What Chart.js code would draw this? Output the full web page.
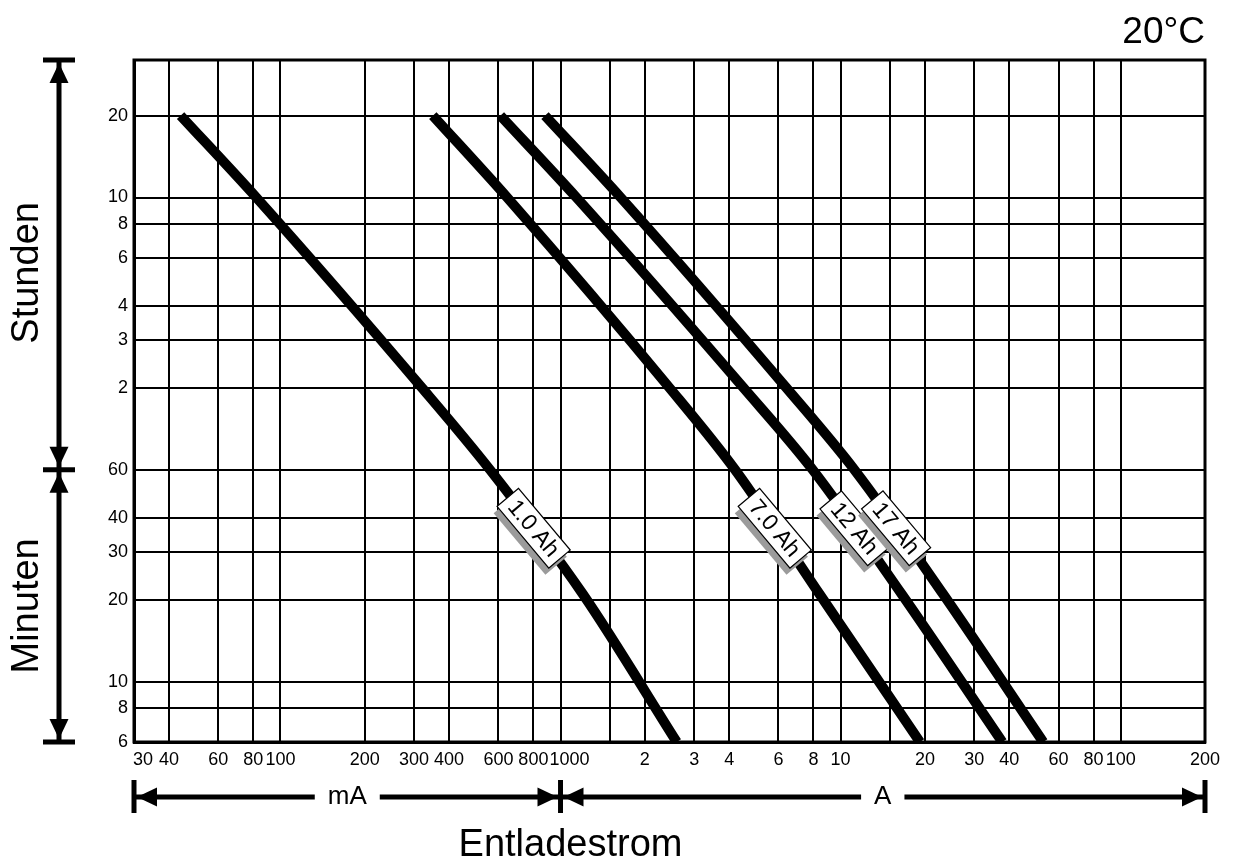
<!DOCTYPE html>
<html>
<head>
<meta charset="utf-8">
<script src="https://cdn.jsdelivr.net/npm/chart.js@4.4.1/dist/chart.umd.min.js"></script>
<style>
  html, body { margin: 0; padding: 0; background: #fff; }
  #wrap { width: 1240px; height: 860px; }
</style>
</head>
<body>
<div id="wrap"><canvas id="chart" width="1240" height="860"></canvas></div>
<script>
// Entladezeit in Stunden (6 min = 0.1 h)
const timeHours = [20, 10, 2, 1, 0.35, 0.1];

// Entladestrom in A
const current1Ah = [0.044, 0.082, 0.32, 0.56, 1.2, 2.6];
const current7Ah = [0.35, 0.645, 2.45, 4.2, 8.4, 19.2];
const current12Ah = [0.61, 1.14, 4.5, 7.95, 16.5, 37.8];
const current17Ah = [0.88, 1.64, 6.4, 11.2, 23.2, 52.9];

const seriesLabels = ['1.0 Ah', '7.0 Ah', '12 Ah', '17 Ah'];
const seriesCurrents = [current1Ah, current7Ah, current12Ah, current17Ah];

// x ticks in A (labels in mA below 1 A)
const xTickValues = [0.03, 0.04, 0.06, 0.08, 0.1, 0.2, 0.3, 0.4, 0.6, 0.8, 1, 1.5, 2, 3, 4, 6, 8, 10, 15, 20, 30, 40, 60, 80, 100, 200];
const xTickLabels = ['\u2002\u200230', '40', '60', '80', '100', '200', '300', '400', '600', '800', '\u2002\u20021000', '', '2', '3', '4', '6', '8', '10', '', '20', '30', '40', '60', '80', '100', '200'];

// y ticks in hours (labels in minutes below 1 h)
const yTickValues = [0.1, 0.1333, 0.1667, 0.3333, 0.5, 0.6667, 1, 2, 3, 4, 6, 8, 10, 20, 32];
const yTickLabels = ['6', '8', '10', '20', '30', '40', '60', '2', '3', '4', '6', '8', '10', '20', ''];

const FONT = "'Liberation Sans', Arial, Helvetica, sans-serif";
const LABEL_AT_HOURS = 0.61;
const TAG_ANGLE = 50 * Math.PI / 180;

const datasets = seriesLabels.map((label, i) => ({
    label: label,
    data: seriesCurrents[i].map((c, k) => ({ x: c, y: timeHours[k] })),
    borderColor: '#000',
    borderWidth: 10,
    borderCapStyle: 'butt',
    pointRadius: 0,
    cubicInterpolationMode: 'monotone',
    fill: false
}));

// white tag with grey shadow
const drawTag = (ctx, x, y, text) => {
    ctx.save();
    ctx.translate(x, y);
    ctx.rotate(TAG_ANGLE);
    ctx.font = '23px ' + FONT;
    const w = ctx.measureText(text).width + 14;
    const h = 28;
    ctx.fillStyle = '#9b9b9b';
    ctx.fillRect(-w / 2 + 3, -h / 2 + 7, w, h);
    ctx.fillStyle = '#fff';
    ctx.fillRect(-w / 2, -h / 2, w, h);
    ctx.lineWidth = 1.2;
    ctx.strokeStyle = '#000';
    ctx.strokeRect(-w / 2, -h / 2, w, h);
    ctx.fillStyle = '#000';
    ctx.textAlign = 'center';
    ctx.textBaseline = 'middle';
    ctx.fillText(text, 0, 1);
    ctx.restore();
};

const tagPlugin = {
    id: 'tagPlugin',
    afterDatasetsDraw(chart) {
        const ty = chart.scales.y.getPixelForValue(LABEL_AT_HOURS);
        chart.data.datasets.forEach((ds, i) => {
            const pts = chart.getDatasetMeta(i).data;
            for (let k = 0; k < pts.length - 1; k++) {
                const a = pts[k], b = pts[k + 1];
                if (ty >= a.y && ty <= b.y) {
                    const t = (ty - a.y) / (b.y - a.y);
                    drawTag(chart.ctx, a.x + t * (b.x - a.x), ty, ds.label);
                    break;
                }
            }
        });
    }
};

const arrowHead = (ctx, x, y, dir) => {
    // dir: direction the tip points to
    const len = 20, half = 9.5;
    const [dx, dy] = { up: [0, -1], down: [0, 1], left: [-1, 0], right: [1, 0] }[dir];
    ctx.beginPath();
    ctx.moveTo(x, y);
    ctx.lineTo(x - dx * len - dy * half, y - dy * len - dx * half);
    ctx.lineTo(x - dx * len + dy * half, y - dy * len + dx * half);
    ctx.closePath();
    ctx.fill();
};

const line = (ctx, x1, y1, x2, y2) => {
    ctx.beginPath();
    ctx.moveTo(x1, y1);
    ctx.lineTo(x2, y2);
    ctx.stroke();
};

const decoPlugin = {
    id: 'decoPlugin',
    afterDraw(chart) {
        const ctx = chart.ctx;
        const area = chart.chartArea;
        const xs = chart.scales.x, ys = chart.scales.y;
        ctx.save();
        ctx.fillStyle = '#000';
        ctx.strokeStyle = '#000';

        // frame
        ctx.lineWidth = 3;
        ctx.strokeRect(area.left, area.top, area.right - area.left, area.bottom - area.top);

        // left: Stunden / Minuten
        const ax = 59;
        const yTop = area.top, yMid = ys.getPixelForValue(1), yBot = ys.getPixelForValue(0.1);
        ctx.lineWidth = 5;
        [yTop, yMid, yBot].forEach(y => line(ctx, ax - 16, y, ax + 16, y));
        line(ctx, ax, yTop, ax, yBot);
        arrowHead(ctx, ax, yTop + 3, 'up');
        arrowHead(ctx, ax, yMid - 3, 'down');
        arrowHead(ctx, ax, yMid + 3, 'up');
        arrowHead(ctx, ax, yBot - 3, 'down');

        ctx.font = '38px ' + FONT;
        ctx.textAlign = 'center';
        ctx.textBaseline = 'middle';
        [['Stunden', (yTop + yMid) / 2 + 8], ['Minuten', (yMid + yBot) / 2]].forEach(([t, cy]) => {
            ctx.save();
            ctx.translate(28, cy);
            ctx.rotate(-Math.PI / 2);
            ctx.fillText(t, 0, 0);
            ctx.restore();
        });

        // bottom: mA / A
        const by = 797;
        const xL = xs.getPixelForValue(0.03), xM = xs.getPixelForValue(1), xR = xs.getPixelForValue(200);
        [xL, xM, xR].forEach(x => line(ctx, x, by - 17, x, by + 16));
        ctx.font = '26px ' + FONT;
        [['mA', xL, xM], ['A', xM, xR]].forEach(([t, a, b]) => {
            const c = (a + b) / 2;
            const half = ctx.measureText(t).width / 2 + 13;
            line(ctx, a, by, c - half, by);
            line(ctx, c + half, by, b, by);
            arrowHead(ctx, a + 3, by, 'left');
            arrowHead(ctx, b - 3, by, 'right');
            ctx.fillText(t, c, by);
        });

        ctx.font = '38px ' + FONT;
        ctx.textBaseline = 'alphabetic';
        ctx.fillText('Entladestrom', xM + 10, 856);

        ctx.textAlign = 'right';
        ctx.font = '37px ' + FONT;
        ctx.fillText('20\u00B0C', area.right, 43);
        ctx.restore();
    }
};

new Chart(document.getElementById('chart'), {
    type: 'line',
    data: { datasets },
    options: {
        responsive: false,
        animation: false,
        layout: { padding: { top: 60, right: 35, bottom: 0, left: 0 } },
        plugins: { legend: { display: false }, tooltip: { enabled: false } },
        scales: {
            x: {
                type: 'logarithmic',
                min: 0.03,
                max: 200,
                afterBuildTicks: s => { s.ticks = xTickValues.map(v => ({ value: v })); },
                afterFit: s => { s.height = 118; },
                grid: { color: '#000', lineWidth: 2, drawTicks: false },
                border: { display: true, color: '#000', width: 3 },
                ticks: {
                    autoSkip: false, maxRotation: 0, minRotation: 0, padding: 7, color: '#000',
                    font: { family: FONT, size: 18 },
                    callback: (v, i) => xTickLabels[i]
                }
            },
            y: {
                type: 'logarithmic',
                min: 0.1,
                max: 32,
                afterBuildTicks: s => { s.ticks = yTickValues.map(v => ({ value: v })); },
                afterFit: s => { s.width = 134; },
                grid: { color: '#000', lineWidth: 2, drawTicks: false },
                border: { display: true, color: '#000', width: 3 },
                ticks: {
                    autoSkip: false, padding: 6, color: '#000',
                    font: { family: FONT, size: 18 },
                    callback: (v, i) => yTickLabels[i]
                }
            }
        }
    },
    plugins: [tagPlugin, decoPlugin]
});
</script>
</body>
</html>
